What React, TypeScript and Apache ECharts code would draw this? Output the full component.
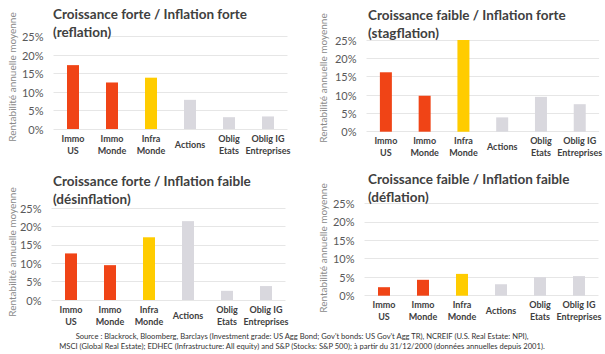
import React, { useEffect, useRef } from "react";
import * as echarts from "echarts";

const categories = ["Immo\nUS", "Immo\nMonde", "Infra\nMonde", "Actions", "Oblig\nEtats", "Oblig IG\nEntreprises"];
const categoryColors = ["#F04416", "#F04416", "#FFCC00", "#D9D8DE", "#D9D8DE", "#D9D8DE"];
const reflation = [17.3, 12.6, 13.9, 7.9, 3.2, 3.4];
const stagflation = [16.2, 9.8, 25.0, 3.9, 9.5, 7.5];
const desinflation = [12.7, 9.5, 17.1, 21.5, 2.5, 3.8];
const deflation = [2.3, 4.3, 5.9, 3.1, 5.0, 5.3];
const panelTitles = [
  "Croissance forte / Inflation forte\n(reflation)",
  "Croissance faible / Inflation forte\n(stagflation)",
  "Croissance forte / Inflation faible\n(désinflation)",
  "Croissance faible / Inflation faible\n(déflation)",
];
const yAxisName = "Rentabilité annuelle moyenne";
const sourceLines = [
  "Source : Blackrock, Bloomberg, Barclays (Investment grade: US Agg Bond; Gov't bonds: US Gov't Agg TR), NCREIF (U.S. Real Estate: NPI),",
  "MSCI (Global Real Estate); EDHEC (Infrastructure: All equity) and S&P (Stocks: S&P 500); à partir du 31/12/2000 (données annuelles depuis 2001).",
];

const FONT = "Lato, 'Open Sans', sans-serif";

export default function App() {
  const ref = useRef<HTMLDivElement>(null);
  useEffect(() => {
    if (!ref.current) return;
    const chart = echarts.init(ref.current, undefined, { renderer: "svg" });
    const series = [reflation, stagflation, desinflation, deflation];
    const grids = [
      { left: 53.5, top: 36.7, width: 234, height: 92.3 },
      { left: 366.5, top: 40, width: 235, height: 91.7 },
      { left: 51.5, top: 208.3, width: 234, height: 91.7 },
      { left: 364.5, top: 203.3, width: 234, height: 92.4 },
    ];
    const titlePos = [
      { left: 53, top: 5 },
      { left: 368, top: 6 },
      { left: 53, top: 172 },
      { left: 368, top: 170 },
    ];
    const namePos = [
      { x: 12, y: 77 },
      { x: 323, y: 78 },
      { x: 12, y: 252 },
      { x: 323, y: 248 },
    ];
    const option: any = {
      animation: false,
      backgroundColor: "#ffffff",
      title: panelTitles.map((t, i) => ({
        text: t,
        left: titlePos[i].left,
        top: titlePos[i].top,
        padding: 0,
        textStyle: { fontFamily: FONT, fontSize: 13.5, fontWeight: "bold", color: "#404040", lineHeight: 18 },
      })),
      grid: grids.map((g) => ({ ...g, containLabel: false })),
      xAxis: grids.map((_, i) => ({
        type: "category",
        gridIndex: i,
        data: categories,
        axisLine: { show: false },
        axisTick: { show: false },
        axisLabel: {
          interval: 0,
          margin: 15,
          verticalAlign: "middle",
          fontFamily: FONT,
          fontSize: 9,
          fontWeight: "bold",
          color: "#404040",
          lineHeight: 12,
        },
      })),
      yAxis: grids.map((_, i) => ({
        type: "value",
        gridIndex: i,
        min: 0,
        max: 25,
        interval: 5,
        axisLine: { show: false },
        axisTick: { show: false },
        splitLine: { lineStyle: { color: "#E6E6E6", width: 1 } },
        axisLabel: { formatter: "{value}%", margin: 10, fontFamily: FONT, fontSize: 11, color: "#595959" },
      })),
      series: series.map((d, i) => ({
        type: "bar",
        xAxisIndex: i,
        yAxisIndex: i,
        barWidth: 12,
        data: d.map((v, j) => ({ value: v, itemStyle: { color: categoryColors[j] } })),
      })),
      graphic: [
        ...namePos.map((p) => ({
          type: "text",
          x: p.x,
          y: p.y,
          rotation: Math.PI / 2,
          style: {
            text: yAxisName,
            fontFamily: FONT,
            fontSize: 10,
            fill: "#8a8a8a",
            align: "center",
            verticalAlign: "middle",
          },
        })),
        ...sourceLines.map((s, i) => ({
          type: "text",
          x: 302,
          y: 336 + i * 9.5,
          style: {
            text: s,
            fontFamily: FONT,
            fontSize: 7.6,
            fill: "#333333",
            align: "center",
            verticalAlign: "middle",
          },
        })),
      ],
    };
    chart.setOption(option);
    return () => chart.dispose();
  }, []);
  return (
    <div
      ref={ref}
      style={{ position: "fixed", left: 0, top: 0, width: 605, height: 354, background: "#fff" }}
    />
  );
}
